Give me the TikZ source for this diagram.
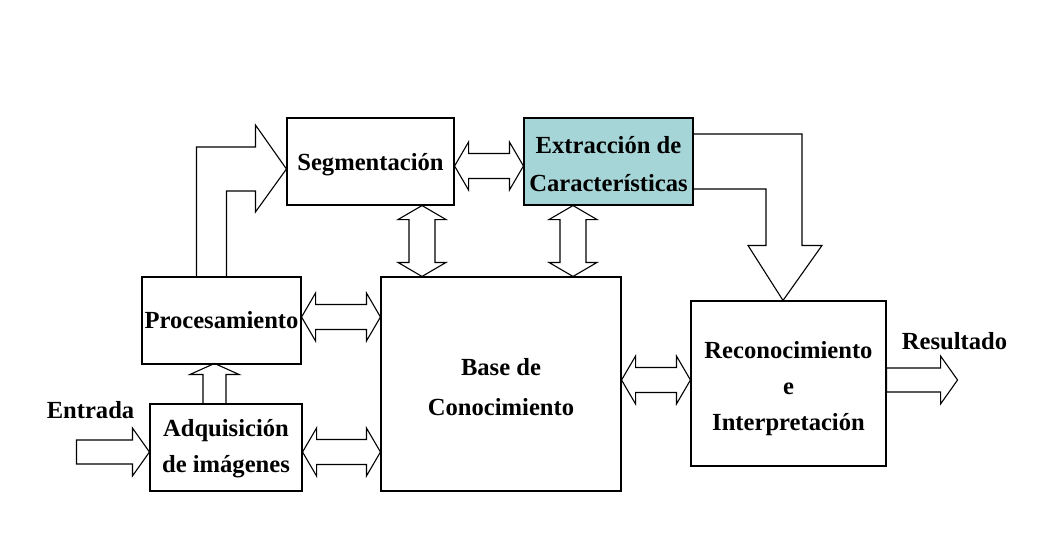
\documentclass[tikz,border=0pt]{standalone}
\usepackage{fontspec}
\setmainfont{Liberation Serif}
\usetikzlibrary{calc}
\definecolor{featfill}{RGB}{166,213,216}

\tikzset{
	box/.style={draw, line width=1.1pt, inner sep=0pt, align=center, font=\bfseries\fontsize{24.6}{36}\selectfont},
	tag/.style={inner sep=0pt, font=\bfseries\fontsize{24.6}{36}\selectfont},
	blockarrow/.style={draw, line width=1.1pt, line join=miter},
}

% horizontal double block arrow: left anchor, y shift, right anchor
\newcommand{\dblh}[3]{%
	\coordinate (hA) at ($(#1)+(0,#2)$);
	\coordinate (hB) at (hA -| #3);
	\draw[blockarrow] (hA) -- ($(hA)+(14,-24)$) -- ($(hA)+(14,-12.5)$) -- ($(hB)+(-14,-12.5)$) -- ($(hB)+(-14,-24)$) -- (hB)
		-- ($(hB)+(-14,24)$) -- ($(hB)+(-14,12.5)$) -- ($(hA)+(14,12.5)$) -- ($(hA)+(14,24)$) -- cycle;}
% vertical double block arrow: top anchor, x shift, bottom anchor
\newcommand{\dblv}[3]{%
	\coordinate (vA) at ($(#1)+(#2,0)$);
	\coordinate (vB) at (vA |- #3);
	\draw[blockarrow] (vA) -- ($(vA)+(-24,14)$) -- ($(vA)+(-13,14)$) -- ($(vB)+(-13,-14)$) -- ($(vB)+(-24,-14)$) -- (vB)
		-- ($(vB)+(24,-14)$) -- ($(vB)+(13,-14)$) -- ($(vA)+(13,14)$) -- ($(vA)+(24,14)$) -- cycle;}
% single block arrow to the right: tail, tip
\newcommand{\sglh}[2]{%
	\draw[blockarrow] ($(#1)+(0,-12)$) -- ($(#2)+(-17,-12)$) -- ($(#2)+(-17,-24)$) -- (#2)
		-- ($(#2)+(-17,24)$) -- ($(#2)+(-17,12)$) -- ($(#1)+(0,12)$) -- cycle;}

\begin{document}
\begin{tikzpicture}[x=1pt, y=-1pt]
	\useasboundingbox (0,0) rectangle (1038,557);
	\fill[white] (0,0) rectangle (1038,557);

	% blocks
	\node[box, minimum width=167, minimum height=87, text height=25.4pt, text depth=7pt] (seg) at (370.5,161.5) {Segmentación};
	\node[box, fill=featfill, minimum width=169, minimum height=87, text height=66pt, text depth=7pt] (ext) at (608.5,161.5) {Extracción de\\[1.7pt]Características};
	\node[box, minimum width=159, minimum height=87, text height=22.6pt, text depth=7pt] (proc) at (221.5,320.5) {Procesamiento};
	\node[box, minimum width=240, minimum height=214, text height=69pt, text depth=7pt] (base) at (501,384) {Base de\\[4pt]Conocimiento};
	\node[box, minimum width=152, minimum height=87, text height=57.4pt, text depth=7pt] (adq) at (226,447.5) {Adquisición\\de imágenes};
	\node[box, minimum width=195, minimum height=165, text height=100pt, text depth=7pt] (rec) at (788.5,383.5) {Reconocimiento\\e\\Interpretación};

	\node[tag] (entrada) at (90.5,410) {Entrada};
	\node[tag] (resultado) at (954.5,341) {Resultado};
	\coordinate (in) at ($(adq.west)+(-73,4.5)$);
	\coordinate (out) at ($(rec.east)+(71,-3.5)$);

	% connectors
	\sglh{in}{in -| adq.west}
	\sglh{out -| rec.east}{out}
	\draw[blockarrow] ($(adq.north)+(-23,0)$) -- ++(0,-29) -- ++(-13,0) -- ++(24.5,-11) -- ++(24.5,11) -- ++(-13,0) -- ++(0,29);
	\draw[blockarrow] ($(proc.north west)+(55,0)$) |- ($(seg.west)+(-31,-14.5)$) -- ($(seg.west)+(-31,-36.5)$)
		-- ($(seg.west)+(0,7.5)$) -- ($(seg.west)+(-31,50.5)$) -- ($(seg.west)+(-31,29.5)$) -| ($(proc.north west)+(85,0)$);
	\draw[blockarrow] ($(ext.east)+(0,-27.5)$) -| ($(rec.north)+(13.5,-55)$) -- ($(rec.north)+(33.5,-55)$)
		-- ($(rec.north)+(-5.5,0)$) -- ($(rec.north)+(-40.5,-55)$) -- ($(rec.north)+(-22.5,-55)$) |- ($(ext.east)+(0,27.5)$);
	\dblh{seg.east}{4.5}{ext.west}
	\dblh{proc.east}{-3.5}{base.west}
	\dblh{adq.east}{4.5}{base.west}
	\dblh{base.east}{-4}{rec.west}
	\dblv{seg.south}{51.5}{base.north}
	\dblv{ext.south}{-35.5}{base.north}
\end{tikzpicture}
\end{document}
